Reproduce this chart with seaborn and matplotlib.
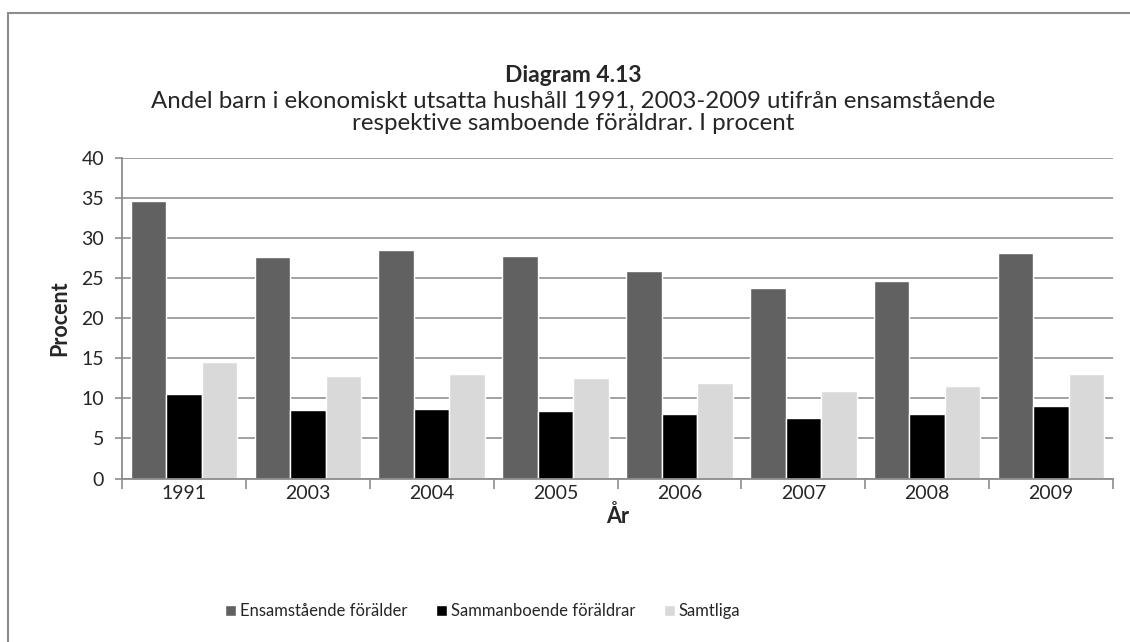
import numpy as np
import pandas as pd
import matplotlib
matplotlib.use("Agg")
import matplotlib.pyplot as plt
from matplotlib.patches import Rectangle
import seaborn as sns

years = ["1991", "2003", "2004", "2005", "2006", "2007", "2008", "2009"]
ensamstaende = [34.6, 27.6, 28.5, 27.8, 25.9, 23.8, 24.7, 28.2]
sammanboende = [10.6, 8.6, 8.7, 8.4, 8.1, 7.5, 8.1, 9.0]
samtliga = [14.5, 12.8, 13.0, 12.6, 11.9, 10.9, 11.5, 13.0]
series_names = ["Ensamstående förälder", "Sammanboende föräldrar", "Samtliga"]
colors = ["#616161", "#000000", "#d9d9d9"]

df = pd.DataFrame({
    "År": years * 3,
    "Procent": ensamstaende + sammanboende + samtliga,
    "Serie": np.repeat(series_names, len(years)),
})

sns.set_theme(style="white")
plt.rcParams["font.family"] = ["Lato", "DejaVu Sans"]

fig = plt.figure(figsize=(11.3, 6.42), dpi=100)
ax = fig.add_axes([122 / 1130, 1 - 478.5 / 642, (1113 - 122) / 1130, (478.5 - 158) / 642])

# outer chart border
fig.patches.append(Rectangle((7.5 / 1130, -0.1), 1.2, 1 - 13 / 642 + 0.1,
                             transform=fig.transFigure, fill=False,
                             edgecolor="#8c8c8c", linewidth=1.5))

sns.barplot(data=df, x="År", y="Procent", hue="Serie", palette=colors,
            width=0.86, gap=0, saturation=1, ax=ax, legend=False)

ax.set_ylim(0, 40)
ax.set_xlim(-0.5, len(years) - 0.5)
ax.set_yticks(np.arange(0, 41, 5))
ax.yaxis.grid(True, color="#9a9a9a", linewidth=1.3)
ax.set_axisbelow(True)
for s in ["top", "right"]:
    ax.spines[s].set_visible(False)
for s in ["left", "bottom"]:
    ax.spines[s].set_color("#8c8c8c")
    ax.spines[s].set_linewidth(1.3)

ax.tick_params(axis="y", which="major", length=5, color="#8c8c8c", width=1.2,
               labelsize=14, pad=8, left=True)
ax.tick_params(axis="x", which="major", length=0, labelsize=14, pad=5)
ax.set_xticks(np.arange(-0.5, len(years), 1), minor=True)
ax.tick_params(axis="x", which="minor", length=7, color="#8c8c8c", width=1.2,
               bottom=True)

ax.set_ylabel("Procent", fontsize=15.5, fontweight="bold", labelpad=8)
ax.set_xlabel("År", fontsize=15.5, fontweight="bold", labelpad=2)

fig.text(573 / 1130, 1 - 75 / 642, "Diagram 4.13", ha="center", va="center",
         fontsize=16.5, fontweight="bold")
fig.text(573 / 1130, 1 - 112.5 / 642,
         "Andel barn i ekonomiskt utsatta hushåll 1991, 2003-2009 utifrån ensamstående\n"
         "respektive samboende föräldrar. I procent",
         ha="center", va="center", fontsize=17.3, linespacing=1.08)

handles = [Rectangle((0, 0), 1, 1, facecolor=c) for c in colors]
fig.legend(handles, series_names, loc="center", ncol=3,
           bbox_to_anchor=(483 / 1130, 1 - 611 / 642), frameon=False,
           fontsize=12, handlelength=0.65, handleheight=0.65,
           handletextpad=0.25, columnspacing=1.7)

fig.savefig("out.png", dpi=100)
